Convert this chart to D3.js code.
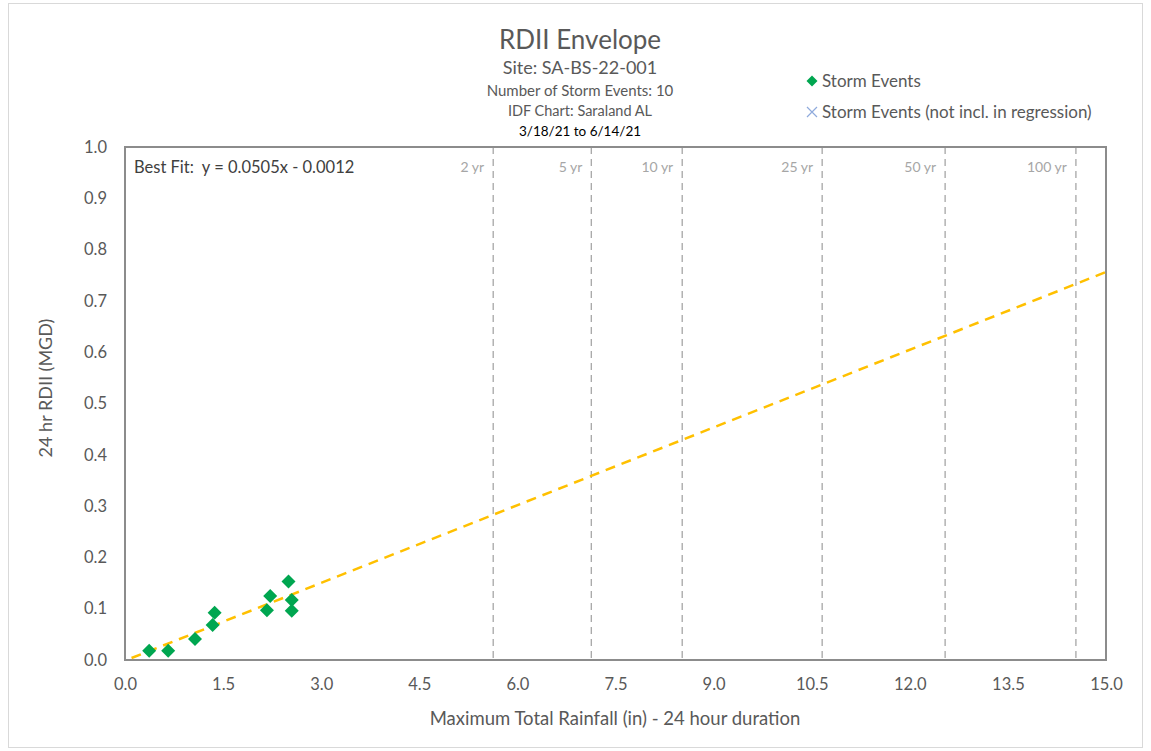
<!DOCTYPE html>
<html lang="en">
<head>
<meta charset="UTF-8"/>
<title>RDII Envelope</title>
<script src="https://d3js.org/d3.v7.min.js"></script>
<style>
	body{ margin:0; background:#fff; }
	text{ font-family: Lato, "Noto Sans", sans-serif; fill:#595959; }
</style>
</head>
<body>
<script>
// storm events (rainfall in, RDII MGD)
var rainfall = [0.37, 0.66, 1.07, 1.34, 1.37, 2.17, 2.22, 2.50, 2.55, 2.55];
var rdii     = [0.018, 0.018, 0.041, 0.068, 0.092, 0.097, 0.125, 0.153, 0.117, 0.096];
// return period lines
var idfLabels = ["2 yr", "5 yr", "10 yr", "25 yr", "50 yr", "100 yr"];
var idfDepths = [5.63, 7.13, 8.52, 10.66, 12.54, 14.54];
// regression
var slope = 0.0505, intercept = -0.0012;
var fitRange = [0.1, 15];
var xTicks = [0, 1.5, 3, 4.5, 6, 7.5, 9, 10.5, 12, 13.5, 15];
var yTicks = [0, 0.1, 0.2, 0.3, 0.4, 0.5, 0.6, 0.7, 0.8, 0.9, 1.0];

var w = 1151, h = 751;
var m = {left:125, top:147, right:1106, bottom:660};

var svg = d3.select("body").append("svg")
	.attr("width", w).attr("height", h);

// outer chart border
svg.append("rect")
	.attr("x", 8.5).attr("y", 3.5).attr("width", 1134).attr("height", 744)
	.style("fill", "none").style("stroke", "#d9d9d9");

var x = d3.scaleLinear().domain([0, 15]).range([m.left, m.right]);
var y = d3.scaleLinear().domain([0, 1]).range([m.bottom, m.top]);

function diamondPath(r){
	return "M0," + (-r) + "L" + r + ",0L0," + r + "L" + (-r) + ",0Z";
}

// titles
var cx = 580;
svg.append("text").attr("x", cx).attr("y", 49).attr("text-anchor", "middle")
	.style("font-size", "26px").text("RDII Envelope");
svg.append("text").attr("x", cx).attr("y", 74).attr("text-anchor", "middle")
	.style("font-size", "18px").text("Site: SA-BS-22-001");
svg.append("text").attr("x", cx).attr("y", 96).attr("text-anchor", "middle")
	.style("font-size", "15px").text("Number of Storm Events: 10");
svg.append("text").attr("x", cx).attr("y", 116).attr("text-anchor", "middle")
	.style("font-size", "14.5px").text("IDF Chart: Saraland AL");
svg.append("text").attr("x", cx).attr("y", 136).attr("text-anchor", "middle")
	.style("font-size", "13.5px").style("fill", "#000").text("3/18/21 to 6/14/21");

// legend
svg.append("path").attr("d", diamondPath(5.5))
	.attr("transform", "translate(812,81)")
	.style("fill", "#00a650");
svg.append("text").attr("x", 822).attr("y", 87).style("font-size", "17px").text("Storm Events");
svg.append("path").attr("d", "M807,107L817,117M817,107L807,117")
	.style("stroke", "#8faadc").style("stroke-width", 1.2);
svg.append("text").attr("x", 822).attr("y", 118).style("font-size", "17px")
	.text("Storm Events (not incl. in regression)");

// axes
var xAxis = d3.axisBottom(x).tickValues(xTicks).tickSize(0).tickPadding(18)
	.tickFormat(d3.format(".1f"));
var gx = svg.append("g").attr("transform", "translate(0," + m.bottom + ")").call(xAxis);
gx.select(".domain").remove();
gx.selectAll("text").style("font-size", "16.5px").style("font-family", "Lato, sans-serif")
	.style("fill", "#595959");

var yAxis = d3.axisLeft(y).tickValues(yTicks).tickSize(0).tickPadding(18)
	.tickFormat(d3.format(".1f"));
var gy = svg.append("g").attr("transform", "translate(" + m.left + ",0)").call(yAxis);
gy.select(".domain").remove();
gy.selectAll("text").style("font-size", "16.5px").style("font-family", "Lato, sans-serif")
	.style("fill", "#595959");

svg.append("text").attr("x", 615).attr("y", 725).attr("text-anchor", "middle")
	.style("font-size", "18.5px").text("Maximum Total Rainfall (in) - 24 hour duration");
svg.append("text").attr("transform", "translate(52,388) rotate(-90)")
	.attr("text-anchor", "middle").style("font-size", "18px").text("24 hr RDII (MGD)");

// return period lines
svg.selectAll(".idf").data(idfDepths).enter().append("line")
	.attr("x1", function(d){ return x(d); }).attr("x2", function(d){ return x(d); })
	.attr("y1", m.top).attr("y2", m.bottom)
	.style("stroke", "#a6a6a6").style("stroke-width", 1.3).style("stroke-dasharray", "7,5");
svg.selectAll(".idfLabel").data(idfDepths).enter().append("text")
	.attr("x", function(d){ return x(d) - 9; }).attr("y", 172)
	.attr("text-anchor", "end").style("font-size", "14px").style("fill", "#a6a6a6")
	.text(function(d, i){ return idfLabels[i]; });

// plot border
svg.append("rect")
	.attr("x", m.left).attr("y", m.top)
	.attr("width", m.right - m.left).attr("height", m.bottom - m.top)
	.style("fill", "none").style("stroke", "#8c8c8c").style("stroke-width", 2);

svg.append("text").attr("x", 134).attr("y", 173).style("font-size", "16.5px")
	.style("fill", "#404040").style("white-space", "pre").text("Best Fit:  y = 0.0505x - 0.0012");

// regression line
var line = d3.line().x(function(d){ return x(d); }).y(function(d){ return y(slope * d + intercept); });
svg.append("path").datum(fitRange).attr("d", line)
	.style("fill", "none").style("stroke", "#ffc000").style("stroke-width", 2.5)
	.style("stroke-dasharray", "10,7");

// storm events
svg.selectAll(".pt").data(rainfall).enter().append("path")
	.attr("d", diamondPath(7))
	.attr("transform", function(d, i){ return "translate(" + x(d) + "," + y(rdii[i]) + ")"; })
	.style("fill", "#00a650");
</script>
</body>
</html>
